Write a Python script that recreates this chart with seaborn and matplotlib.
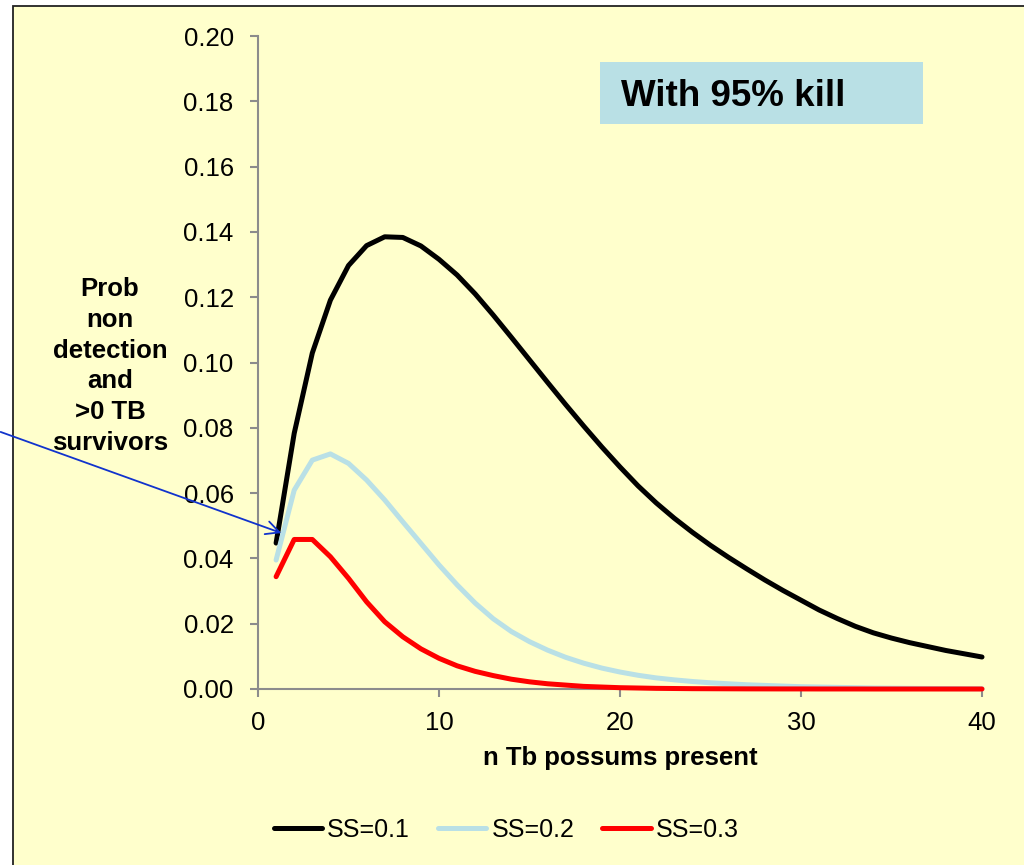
import numpy as np
import pandas as pd
import matplotlib
matplotlib.use("Agg")
import matplotlib.pyplot as plt
from matplotlib.patches import Rectangle, FancyArrowPatch
import seaborn as sns

# ---- data ----
n_possums = list(range(1, 41))
ss01 = [0.0447, 0.0783, 0.1029, 0.1191, 0.1297, 0.1358, 0.1385, 0.1383, 0.1357, 0.1316,
        0.1268, 0.1210, 0.1145, 0.1077, 0.1008, 0.0939, 0.0871, 0.0805, 0.0741, 0.0680,
        0.0622, 0.0570, 0.0523, 0.0480, 0.0440, 0.0403, 0.0368, 0.0334, 0.0302, 0.0272,
        0.0242, 0.0216, 0.0192, 0.0172, 0.0156, 0.0142, 0.0130, 0.0118, 0.0108, 0.0098]
ss02 = [0.0395, 0.0609, 0.0701, 0.0720, 0.0691, 0.0640, 0.0579, 0.0512, 0.0446, 0.0380,
        0.0319, 0.0263, 0.0215, 0.0176, 0.0145, 0.0119, 0.0097, 0.0079, 0.0064, 0.0052,
        0.0042, 0.0034, 0.0028, 0.0023, 0.0019, 0.0016, 0.0013, 0.0011, 0.0009, 0.0007,
        0.0006, 0.0005, 0.0004, 0.0003, 0.00025, 0.0002, 0.00016, 0.00013, 0.0001, 0.00008]
ss03 = [0.0344, 0.0458, 0.0458, 0.0405, 0.0339, 0.0267, 0.0206, 0.0160, 0.0123, 0.0094,
        0.0071, 0.0054, 0.0041, 0.0030, 0.0022, 0.0016, 0.0012, 0.0008, 0.0006, 0.0004,
        0.0003, 0.0002, 0.00015, 0.0001, 0.00008, 0.00006, 0.00004, 0.00003, 0.00002, 0.00002,
        0.00001, 0.00001, 0.00001, 0.0, 0.0, 0.0, 0.0, 0.0, 0.0, 0.0]
series_names = ["SS=0.1", "SS=0.2", "SS=0.3"]
series_colors = ["#000000", "#B9E0E6", "#FF0000"]
y_ticks = [0.00, 0.02, 0.04, 0.06, 0.08, 0.10, 0.12, 0.14, 0.16, 0.18, 0.20]
x_ticks = [0, 10, 20, 30, 40]
title_text = "With 95% kill"
x_label = "n Tb possums present"
y_label = "Prob\nnon\ndetection\nand\n>0 TB\nsurvivors"

df = pd.DataFrame({
    "n": n_possums * 3,
    "p": ss01 + ss02 + ss03,
    "series": [series_names[0]] * 40 + [series_names[1]] * 40 + [series_names[2]] * 40,
})

sns.set_style("white")
plt.rcParams["font.family"] = ["Liberation Sans", "DejaVu Sans"]
plt.rcParams["text.color"] = "black"
plt.rcParams["axes.labelcolor"] = "black"
plt.rcParams["xtick.color"] = "black"
plt.rcParams["ytick.color"] = "black"

BG = "#FFFFCC"
W, H = 1024, 865
fig = plt.figure(figsize=(W / 100, H / 100), dpi=100, facecolor="white")

# outer chart area frame (left/top visible)
fig.patches.append(Rectangle((12.5 / W, -0.05), 1.1, 1 - 6 / H + 0.05,
                             transform=fig.transFigure, facecolor=BG,
                             edgecolor="#222222", linewidth=1.3, zorder=-5))

ax = fig.add_axes([258 / W, 1 - 689 / H, (982 - 258) / W, (689 - 36) / H])
ax.set_facecolor("none")
ax.set_zorder(1)

sns.lineplot(data=df, x="n", y="p", hue="series", hue_order=series_names,
             palette=series_colors, linewidth=3.6, legend=False, ax=ax,
             solid_capstyle="round", clip_on=False)

ax.set_xlim(0, 40)
ax.set_ylim(0, 0.20)
ax.set_xticks(x_ticks)
ax.set_yticks(y_ticks)
ax.set_yticklabels([f"{v:.2f}" for v in y_ticks])
ax.set_xticklabels([str(v) for v in x_ticks])
for side in ["top", "right"]:
    ax.spines[side].set_visible(False)
for side in ["left", "bottom"]:
    ax.spines[side].set_color("#8C8C8C")
    ax.spines[side].set_linewidth(1.5)
    ax.spines[side].set_zorder(0.5)
ax.tick_params(axis="both", direction="out", length=6, width=1.5, color="#8C8C8C",
               labelsize=18.5, labelcolor="black", bottom=True, left=True)
ax.tick_params(axis="y", pad=11.5)
ax.tick_params(axis="x", pad=9.5)
ax.set_xlabel("")
ax.set_ylabel("")

fig.text(620 / W, 1 - 758 / H, x_label, ha="center", va="center",
         fontsize=18.5, fontweight="bold", color="black")
fig.text(110 / W, 1 - 366 / H, y_label, ha="center", va="center",
         multialignment="center", fontsize=18.5, fontweight="bold", linespacing=1.35,
         color="black")

# title box
fig.patches.append(Rectangle((600 / W, 1 - 123.5 / H), (922.5 - 600) / W, (123.5 - 62.5) / H,
                             transform=fig.transFigure, facecolor="#B9E0E5",
                             edgecolor="none", zorder=2))
fig.text(621 / W, 1 - 96 / H, title_text, ha="left", va="center",
         fontsize=26.5, fontweight="bold", color="black", zorder=3)

# arrow
fig.add_artist(FancyArrowPatch(
    (-2 / W, 1 - 431 / H), (284 / W, 1 - 534 / H), transform=fig.transFigure,
    arrowstyle="->", mutation_scale=24, color="#1133CC", linewidth=1.3, zorder=5))

# legend
handles = ax.get_lines()[:3]
leg = fig.legend(handles, series_names, loc="center", bbox_to_anchor=(506 / W, 1 - 830 / H),
                 ncol=3, frameon=False, fontsize=18, handlelength=1.95,
                 handletextpad=0.2, columnspacing=1.1)

fig.savefig("out.png", dpi=100, facecolor="white")
